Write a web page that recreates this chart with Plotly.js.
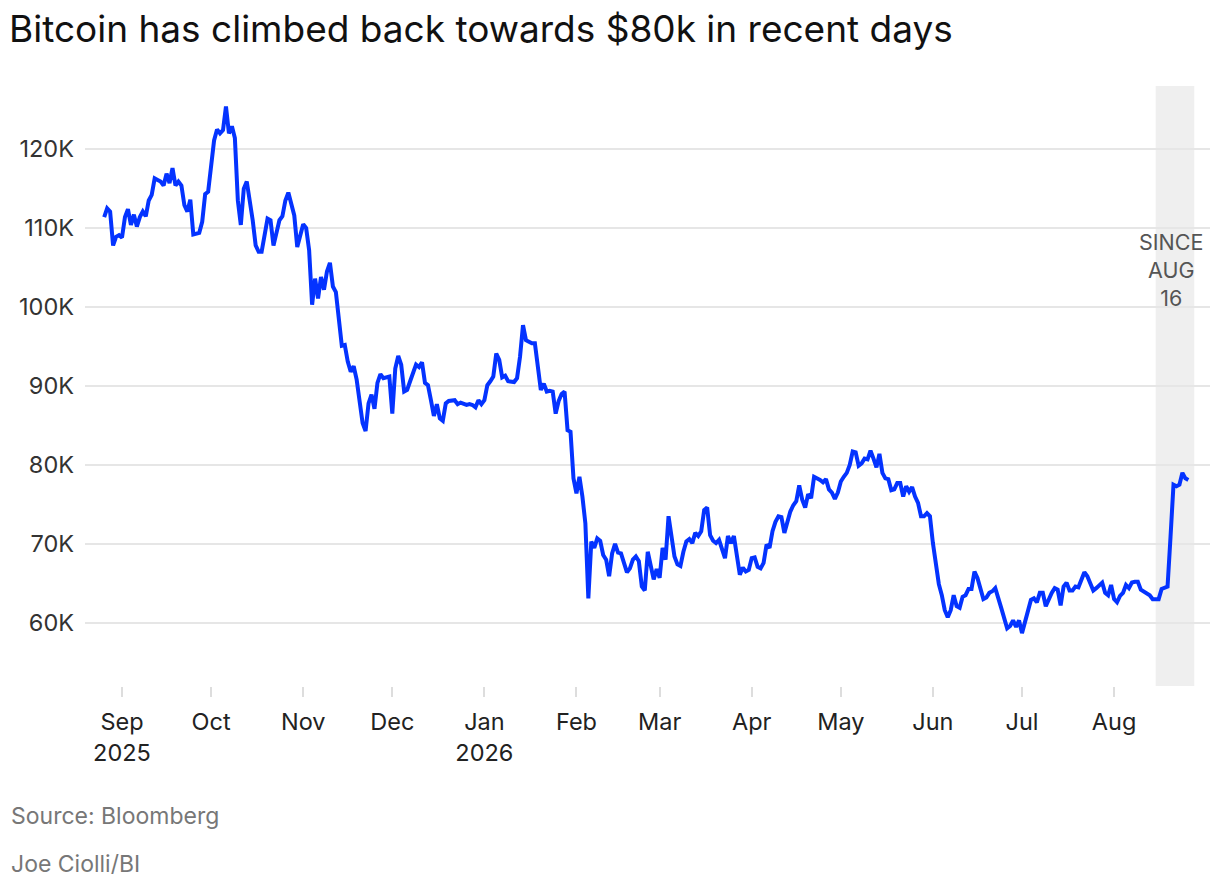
<!DOCTYPE html>
<html>
<head>
<meta charset="utf-8">
<script src="https://cdn.plot.ly/plotly-3.0.1.min.js"></script>
<style>
  html, body { margin: 0; padding: 0; background: #ffffff; }
  #chart { width: 1220px; height: 890px; }
</style>
</head>
<body>
<div id="chart"></div>
<script>
// ---- Data (Bitcoin price, thousands of USD) ----
const dates = [
  "2025-08-26","2025-08-27","2025-08-28","2025-08-29","2025-08-30","2025-08-31",
  "2025-09-01","2025-09-02","2025-09-03","2025-09-04","2025-09-05","2025-09-06","2025-09-07","2025-09-08","2025-09-09","2025-09-10",
  "2025-09-11","2025-09-12","2025-09-13","2025-09-14","2025-09-15","2025-09-16","2025-09-17","2025-09-18","2025-09-19","2025-09-20",
  "2025-09-21","2025-09-22","2025-09-23","2025-09-24","2025-09-25","2025-09-26","2025-09-27","2025-09-28","2025-09-29","2025-09-30",
  "2025-10-01","2025-10-02","2025-10-03","2025-10-04","2025-10-05","2025-10-06","2025-10-07","2025-10-08","2025-10-09","2025-10-10",
  "2025-10-11","2025-10-12","2025-10-13","2025-10-14","2025-10-15","2025-10-16","2025-10-17","2025-10-18","2025-10-19","2025-10-20",
  "2025-10-21","2025-10-22","2025-10-23","2025-10-24","2025-10-25","2025-10-26","2025-10-27","2025-10-28","2025-10-29","2025-10-30","2025-10-31",
  "2025-11-01","2025-11-02","2025-11-03","2025-11-04","2025-11-05","2025-11-06","2025-11-07","2025-11-08","2025-11-09","2025-11-10",
  "2025-11-11","2025-11-12","2025-11-13","2025-11-14","2025-11-15","2025-11-16","2025-11-17","2025-11-18","2025-11-19","2025-11-20",
  "2025-11-21","2025-11-22","2025-11-23","2025-11-24","2025-11-25","2025-11-26","2025-11-27","2025-11-28","2025-11-29","2025-11-30",
  "2025-12-01","2025-12-02","2025-12-03","2025-12-04","2025-12-05","2025-12-06","2025-12-07","2025-12-09","2025-12-10",
  "2025-12-11","2025-12-12","2025-12-13","2025-12-14","2025-12-15","2025-12-16","2025-12-17","2025-12-18","2025-12-19","2025-12-20",
  "2025-12-21","2025-12-22","2025-12-23","2025-12-24","2025-12-26","2025-12-27","2025-12-28","2025-12-29","2025-12-30","2025-12-31",
  "2026-01-01","2026-01-02","2026-01-03","2026-01-04","2026-01-05","2026-01-06","2026-01-07","2026-01-08","2026-01-09","2026-01-11",
  "2026-01-12","2026-01-13","2026-01-14","2026-01-15","2026-01-16","2026-01-17","2026-01-18","2026-01-19","2026-01-20","2026-01-21",
  "2026-01-22","2026-01-23","2026-01-24","2026-01-25","2026-01-26","2026-01-27","2026-01-28","2026-01-29","2026-01-30","2026-01-31",
  "2026-02-01","2026-02-02","2026-02-03","2026-02-04","2026-02-05","2026-02-06","2026-02-07","2026-02-08","2026-02-09","2026-02-10",
  "2026-02-11","2026-02-12","2026-02-13","2026-02-14","2026-02-15","2026-02-16","2026-02-17","2026-02-18","2026-02-19","2026-02-20",
  "2026-02-21","2026-02-22","2026-02-23","2026-02-24","2026-02-25","2026-02-26","2026-02-27","2026-02-28",
  "2026-03-01","2026-03-02","2026-03-03","2026-03-04","2026-03-05","2026-03-06","2026-03-07","2026-03-08","2026-03-09","2026-03-10",
  "2026-03-11","2026-03-12","2026-03-13","2026-03-14","2026-03-15","2026-03-16","2026-03-17","2026-03-18","2026-03-19","2026-03-20",
  "2026-03-21","2026-03-23","2026-03-24","2026-03-25","2026-03-26","2026-03-27","2026-03-28","2026-03-29","2026-03-30","2026-03-31",
  "2026-04-01","2026-04-02","2026-04-03","2026-04-04","2026-04-05","2026-04-06","2026-04-07","2026-04-08","2026-04-09","2026-04-10",
  "2026-04-11","2026-04-12","2026-04-13","2026-04-14","2026-04-15","2026-04-16","2026-04-17","2026-04-18","2026-04-19","2026-04-20",
  "2026-04-21","2026-04-22","2026-04-24","2026-04-25","2026-04-26","2026-04-27","2026-04-28","2026-04-29","2026-04-30",
  "2026-05-01","2026-05-02","2026-05-03","2026-05-04","2026-05-05","2026-05-06","2026-05-07","2026-05-08","2026-05-09","2026-05-10",
  "2026-05-11","2026-05-12","2026-05-13","2026-05-14","2026-05-15","2026-05-16","2026-05-17","2026-05-18","2026-05-19","2026-05-20",
  "2026-05-21","2026-05-22","2026-05-23","2026-05-24","2026-05-25","2026-05-26","2026-05-27","2026-05-28","2026-05-29","2026-05-30","2026-05-31",
  "2026-06-01","2026-06-02","2026-06-03","2026-06-04","2026-06-05","2026-06-06","2026-06-07","2026-06-08","2026-06-09","2026-06-10",
  "2026-06-11","2026-06-12","2026-06-13","2026-06-14","2026-06-15","2026-06-16","2026-06-17","2026-06-18","2026-06-19","2026-06-20",
  "2026-06-21","2026-06-22","2026-06-24","2026-06-26","2026-06-27","2026-06-28","2026-06-29","2026-06-30",
  "2026-07-01","2026-07-02","2026-07-03","2026-07-04","2026-07-05","2026-07-06","2026-07-07","2026-07-08","2026-07-09","2026-07-10",
  "2026-07-11","2026-07-12","2026-07-13","2026-07-14","2026-07-15","2026-07-16","2026-07-17","2026-07-18","2026-07-19","2026-07-20",
  "2026-07-21","2026-07-22","2026-07-23","2026-07-24","2026-07-25","2026-07-26","2026-07-28","2026-07-29","2026-07-30","2026-07-31",
  "2026-08-01","2026-08-02","2026-08-03","2026-08-04","2026-08-05","2026-08-06","2026-08-07","2026-08-08","2026-08-09","2026-08-10",
  "2026-08-12","2026-08-13","2026-08-14","2026-08-15","2026-08-16","2026-08-17","2026-08-19","2026-08-20","2026-08-21","2026-08-22",
  "2026-08-23","2026-08-24","2026-08-25","2026-08-26"
];

const priceK = [
  111.4,112.5,112.1,107.8,108.9,109.1,
  108.8,111.4,112.4,110.4,111.7,110.2,111.4,112.1,111.5,113.5,
  114.2,116.3,116.1,115.9,115.4,116.9,115.7,117.6,115.4,115.9,
  115.4,112.9,112.1,113.6,109.2,109.3,109.4,110.8,114.3,114.6,
  117.8,121.1,122.5,122.0,122.4,125.4,122.0,122.9,121.4,113.5,
  110.4,115.0,115.9,113.5,111.0,107.8,107.0,107.0,109.3,111.2,
  111.0,107.8,109.4,111.0,111.5,113.5,114.5,112.9,111.6,107.6,109.3,
  110.5,110.0,107.2,100.3,103.6,101.1,103.8,102.2,104.5,105.6,
  102.6,101.9,98.4,95.1,95.2,93.1,91.8,92.5,90.8,87.8,
  85.3,84.3,87.8,88.9,87.1,90.4,91.5,91.0,91.1,91.2,
  86.5,92.2,93.8,92.7,89.3,89.5,90.6,92.7,92.4,
  93.0,90.4,90.1,88.2,86.2,87.7,85.9,85.6,87.8,88.1,
  88.2,88.2,87.7,87.9,87.6,87.7,87.6,87.3,88.2,87.7,
  88.2,90.1,90.6,91.2,94.1,93.3,91.1,91.3,90.6,90.5,
  91.0,93.7,97.7,95.8,95.6,95.4,95.4,92.5,89.5,90.3,
  89.3,89.4,89.3,86.5,88.1,89.0,89.3,84.4,84.2,78.3,
  76.4,78.5,76.0,72.6,63.1,70.3,69.5,70.7,70.4,68.6,
  68.0,65.9,68.8,70.0,68.9,68.8,67.5,66.4,66.9,68.0,
  68.4,67.8,64.6,64.1,69.0,67.1,65.5,66.8,
  65.7,69.5,68.0,73.5,71.0,68.4,67.4,67.2,69.0,70.3,
  70.6,70.1,71.4,71.0,71.6,74.3,74.6,71.1,70.4,70.1,
  70.5,68.2,71.0,70.1,71.0,68.2,66.1,67.0,66.5,66.7,
  68.2,68.3,67.1,66.9,67.6,69.9,69.5,71.6,72.8,73.5,
  73.4,71.4,73.0,74.1,74.9,75.4,77.4,75.6,74.6,76.3,
  75.8,78.5,78.1,77.8,78.2,76.9,76.5,75.7,76.5,
  77.9,78.5,79.0,80.0,81.7,81.6,79.9,80.2,80.8,80.7,
  81.8,80.8,79.7,81.4,79.0,78.3,78.2,76.8,76.9,77.7,
  77.7,76.0,77.3,76.6,77.2,76.0,75.2,73.5,73.5,73.9,73.5,
  70.1,67.1,64.9,63.5,61.6,60.7,61.6,63.5,62.1,61.9,
  63.3,63.5,64.3,64.3,66.5,65.7,64.3,63.0,63.2,63.8,
  64.0,64.4,61.9,59.3,59.6,60.3,59.5,60.3,
  58.7,60.2,61.9,62.9,63.1,62.6,63.8,63.8,62.1,63.1,
  63.8,64.4,64.2,62.2,64.6,65.1,64.1,64.1,64.6,64.5,
  65.4,66.4,65.9,65.1,64.1,64.4,65.1,63.8,63.5,64.8,
  63.0,62.6,63.4,63.8,64.8,64.4,65.1,65.2,65.2,64.2,
  63.8,63.5,63.0,63.0,63.0,64.3,64.6,70.9,77.5,77.3,
  77.5,79.0,78.3,78.1
];

// Axis ticks
const monthTicks = ["2025-09-01","2025-10-01","2025-11-01","2025-12-01","2026-01-01","2026-02-01",
                    "2026-03-01","2026-04-01","2026-05-01","2026-06-01","2026-07-01","2026-08-01"];
const monthLabels = ["Sep<br>2025","Oct","Nov","Dec","Jan<br>2026","Feb","Mar","Apr","May","Jun","Jul","Aug"];
const yTicks = [60, 70, 80, 90, 100, 110, 120];
const yLabels = ["60K","70K","80K","90K","100K","110K","120K"];

// Highlighted period
const highlightStart = "2026-08-15";
const highlightEnd = "2026-08-28";

const FONT = "Inter, 'Noto Sans', sans-serif";

const trace = {
  x: dates,
  y: priceK,
  type: "scatter",
  mode: "lines",
  line: { color: "#0433ff", width: 4 },
  hoverinfo: "skip"
};

const layout = {
  width: 1220,
  height: 890,
  margin: { l: 85, r: 10, t: 86, b: 204 },
  paper_bgcolor: "#ffffff",
  plot_bgcolor: "#ffffff",
  showlegend: false,
  font: { family: FONT, color: "#222222", size: 23 },
  title: {
    text: "Bitcoin has climbed back towards $80k in recent days",
    font: { family: FONT, size: 37, color: "#111111" },
    xref: "container", yref: "container",
    x: 9 / 1220, xanchor: "left",
    y: 1 - 29 / 890, yanchor: "middle"
  },
  xaxis: {
    type: "date",
    range: ["2025-08-19 13:00", "2026-09-02 07:00"],
    tickmode: "array",
    tickvals: monthTicks,
    ticktext: monthLabels,
    ticks: "outside",
    ticklen: 10,
    tickwidth: 2,
    tickcolor: "#dddddd",
    ticklabelstandoff: 5,
    showgrid: false,
    zeroline: false,
    showline: false,
    fixedrange: true,
    tickfont: { family: FONT, size: 23.5, color: "#222222" }
  },
  yaxis: {
    range: [52, 128],
    tickmode: "array",
    tickvals: yTicks,
    ticktext: yLabels,
    showgrid: true,
    gridcolor: "#e6e6e6",
    gridwidth: 2,
    zeroline: false,
    showline: false,
    ticks: "",
    ticklabelstandoff: 10,
    fixedrange: true,
    tickfont: { family: FONT, size: 23.5, color: "#333333" }
  },
  shapes: [
    {
      type: "rect", xref: "x", yref: "paper",
      x0: highlightStart, x1: highlightEnd, y0: 0, y1: 1,
      fillcolor: "#efefef", line: { width: 0 }, layer: "below"
    }
  ],
  annotations: [
    {
      xref: "x", yref: "y",
      x: "2026-08-20 05:00", y: 104.7,
      text: "SINCE<br>AUG<br>16",
      showarrow: false,
      xanchor: "center", yanchor: "middle",
      align: "center",
      font: { family: FONT, size: 21.5, color: "#555555" }
    },
    {
      xref: "paper", yref: "paper",
      x: -76 / 1125, y: -130 / 600,
      xanchor: "left", yanchor: "middle",
      text: "Source: Bloomberg",
      showarrow: false,
      font: { family: FONT, size: 23, color: "#777777" }
    },
    {
      xref: "paper", yref: "paper",
      x: -76 / 1125, y: -178 / 600,
      xanchor: "left", yanchor: "middle",
      text: "Joe Ciolli/BI",
      showarrow: false,
      font: { family: FONT, size: 23, color: "#777777" }
    }
  ]
};

Plotly.newPlot("chart", [trace], layout, { displayModeBar: false, staticPlot: true });
</script>
</body>
</html>
